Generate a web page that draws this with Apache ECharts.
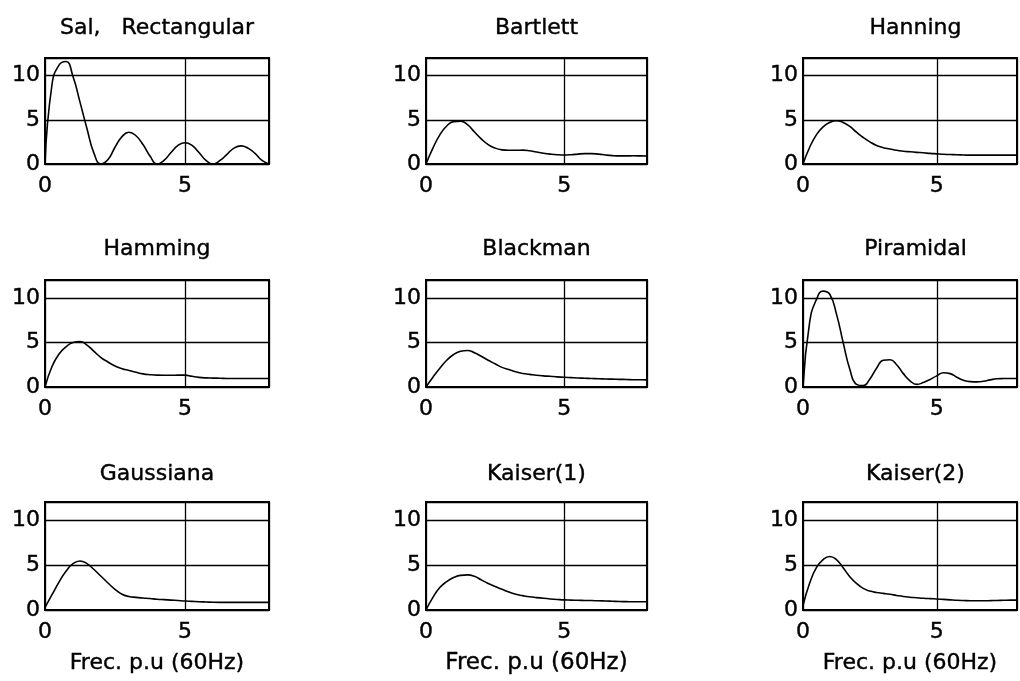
<!DOCTYPE html>
<html>
<head>
<meta charset="utf-8">
<script src="https://cdn.jsdelivr.net/npm/echarts@6/dist/echarts.min.js"></script>
<style>html,body{margin:0;padding:0;background:#fff;}#c{width:1020px;height:681px;}</style>
</head>
<body>
<div id="c"></div>
<script>
// frequency samples (p.u.)
const xs = [0,0.25,0.5,0.75,1,1.25,1.5,1.75,2,2.25,2.5,2.75,3,3.25,3.5,3.75,4,4.25,4.5,4.75,5,5.25,5.5,5.75,6,6.25,6.5,6.75,7,7.25,7.5,7.75,8];

const rectangular = [0,9.0,11.2,11.6,9.9,7.0,4.0,1.2,0,0.5,1.9,3.1,3.6,3.2,2.2,0.9,0,0.4,1.3,2.1,2.4,2.1,1.3,0.4,0,0.4,1.1,1.8,2.05,1.8,1.2,0.4,0];
const bartlett = [0,1.8,3.3,4.3,4.8,4.85,4.45,3.65,2.85,2.2,1.8,1.6,1.55,1.55,1.57,1.5,1.35,1.22,1.12,1.05,1.02,1.05,1.12,1.17,1.18,1.12,1.02,0.95,0.92,0.92,0.93,0.92,0.9];
const hanning = [0,1.9,3.3,4.2,4.7,4.9,4.7,4.25,3.6,3.0,2.5,2.1,1.85,1.7,1.55,1.45,1.38,1.32,1.27,1.2,1.15,1.1,1.07,1.04,1.02,1.0,1.0,1.0,1.0,1.0,1.0,1.0,1.0];
const hamming = [0,2.3,3.7,4.5,5.0,5.1,4.7,4.0,3.3,2.8,2.35,2.05,1.85,1.65,1.47,1.38,1.33,1.32,1.32,1.33,1.33,1.2,1.08,1.02,1.0,0.98,0.96,0.95,0.95,0.95,0.95,0.95,0.95];
const blackman = [0,1.1,2.1,3.0,3.65,4.0,4.1,3.85,3.45,3.0,2.6,2.2,1.95,1.7,1.52,1.42,1.32,1.25,1.2,1.14,1.09,1.05,1.01,0.98,0.95,0.93,0.9,0.88,0.86,0.84,0.82,0.81,0.8];
const piramidal = [0,7.3,9.8,10.75,10.4,8.2,5.0,2.0,0.3,0.15,0.9,2.1,3.0,3.05,2.5,1.5,0.7,0.3,0.5,0.85,1.25,1.6,1.5,1.1,0.75,0.6,0.58,0.65,0.8,0.92,0.95,0.96,0.96];
const gaussiana = [0.3,1.7,3.1,4.3,5.15,5.45,5.15,4.5,3.75,3.0,2.3,1.75,1.5,1.4,1.33,1.27,1.2,1.15,1.1,1.05,1.0,0.96,0.92,0.89,0.86,0.85,0.85,0.85,0.85,0.85,0.85,0.85,0.85];
const kaiser1 = [0,1.4,2.5,3.15,3.6,3.85,3.9,3.75,3.35,2.95,2.6,2.3,2.0,1.75,1.6,1.47,1.38,1.3,1.23,1.17,1.12,1.1,1.08,1.06,1.05,1.02,1.0,0.97,0.94,0.93,0.92,0.92,0.92];
const kaiser2 = [0.5,3.0,4.7,5.6,5.95,5.6,4.7,3.7,2.95,2.4,2.1,1.95,1.85,1.75,1.62,1.5,1.42,1.36,1.3,1.26,1.23,1.18,1.13,1.08,1.05,1.03,1.03,1.03,1.04,1.06,1.08,1.1,1.1];

const titles = ['Sal,   Rectangular','Bartlett','Hanning','Hamming','Blackman','Piramidal','Gaussiana','Kaiser(1)','Kaiser(2)'];
const yTicks = [0,5,10];
const xTicks = [0,5];
const xName = 'Frec. p.u (60Hz)';

const seriesValues = [rectangular,bartlett,hanning,hamming,blackman,piramidal,gaussiana,kaiser1,kaiser2];

const colLeft = [45,426,803];
const colWidth = [224,221,225];
const rowTop = [58,280,502];
const rowHeight = [106,107,108];
const titleTop = [16,237,462];
const FONT = 'DejaVu Sans';

const grid = [], xAxis = [], yAxis = [], series = [], title = [];
for (let i = 0; i < 9; i++) {
  const r = Math.floor(i/3), c = i % 3;
  grid.push({left: colLeft[c], top: rowTop[r], width: colWidth[c], height: rowHeight[r],
    show: true, borderColor: '#000', borderWidth: 2, containLabel: false});
  title.push({text: titles[i], left: colLeft[c] + colWidth[c]/2, top: titleTop[r], textAlign: 'center', padding: 0,
    textStyle: {fontFamily: FONT, fontSize: 22, fontWeight: 'normal', color: '#000', lineHeight: 24,
      textBorderColor: '#000', textBorderWidth: 0.4}});
  xAxis.push({gridIndex: i, type: 'value', min: 0, max: 8, interval: 5,
    name: r === 2 ? xName : '', nameLocation: 'middle', nameGap: 42,
    nameTextStyle: {fontFamily: FONT, fontSize: c === 1 ? 23 : 22, color: '#000', textBorderColor: '#000', textBorderWidth: 0.4},
    axisLine: {show: true, lineStyle: {color: '#000', width: 2}},
    axisTick: {show: false},
    axisLabel: {fontFamily: FONT, fontSize: 22, color: '#000', margin: 11, textBorderColor: '#000', textBorderWidth: 0.4,
      formatter: v => xTicks.includes(v) ? String(v) : ''},
    splitLine: {show: true, lineStyle: {color: '#000', width: 1.3, type: 'solid'}}});
  yAxis.push({gridIndex: i, type: 'value', min: 0, max: 12, interval: 5,
    axisLine: {show: true, lineStyle: {color: '#000', width: 2}},
    axisTick: {show: false},
    axisLabel: {fontFamily: FONT, fontSize: 22, color: '#000', margin: 5, textBorderColor: '#000', textBorderWidth: 0.4,
      formatter: v => yTicks.includes(v) ? String(v) : ''},
    splitLine: {show: true, lineStyle: {color: '#000', width: 1.3, type: 'solid'}}});
  series.push({type: 'line', xAxisIndex: i, yAxisIndex: i,
    data: xs.map((x, k) => [x, seriesValues[i][k]]),
    showSymbol: false, smooth: 0.5, clip: true,
    lineStyle: {color: '#000', width: 1.6}, silent: true});
}

const chart = echarts.init(document.getElementById('c'), null, {renderer: 'canvas'});
chart.setOption({backgroundColor: '#fff', animation: false, title, grid, xAxis, yAxis, series});
</script>
</body>
</html>
